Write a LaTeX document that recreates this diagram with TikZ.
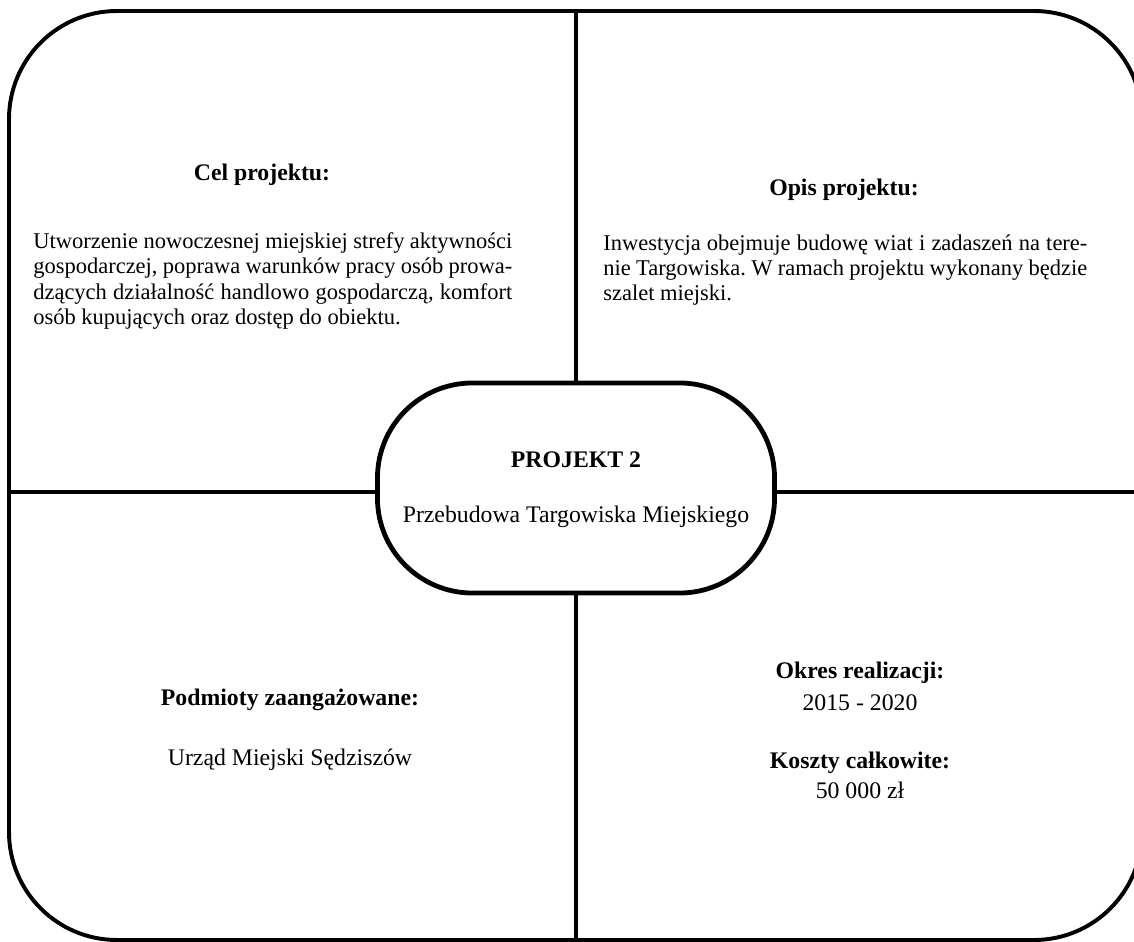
\documentclass[tikz,border=0pt]{standalone}
\usepackage{fontspec}
\setmainfont{Liberation Serif}
\frenchspacing
\usetikzlibrary{positioning}

% one justified line of given width
\newcommand{\fullline}[2]{\makebox[#1][s]{#2}}

\begin{document}
\begin{tikzpicture}[
        x=0.025cm, y=-0.025cm,
        frame/.style   = {draw, line width=2.8pt, rounded corners=2.7cm},
        divider/.style = {draw, line width=3pt},
        hub/.style     = {draw, fill=white, line width=3.4pt, rectangle, rounded corners=2.375cm, minimum width=9.925cm, minimum height=5.25cm},
        txt/.style     = {inner sep=0pt, font=\fontsize{16.9}{17.8}\selectfont},
        head/.style    = {inner sep=0pt, font=\fontsize{16.9}{17.8}\selectfont\bfseries},
        body/.style    = {inner sep=0pt, align=left, font=\fontsize{16}{17.8}\selectfont}]

        \useasboundingbox (0,0) rectangle (1134,942);

        % outer frame of the card
        \draw[frame] (9,11) rectangle (1142,940);

        % the two dividers, ends as named coordinates
        \coordinate (top) at (576,11);
        \coordinate (bottom) at (576,942);
        \coordinate (left) at (9,492);
        \coordinate (right) at (1142,492);
        \draw[divider] (top) -- (bottom);
        \draw[divider] (left) -- (right);

        % centre of the card
        \node[hub] (hub) at (576,488) {};
        \node[head] (projekt) at (576,460) {PROJEKT 2};
        \node[txt] (nazwa) at (576,517) {Przebudowa Targowiska Miejskiego};

        % upper left quarter
        \node[head] (cel) at (262,175) {Cel projektu:};
        \node[body, anchor=west] (celtxt) at (33,281) {%
            \fullline{11.975cm}{Utworzenie nowoczesnej miejskiej strefy aktywności}\\
            \fullline{11.975cm}{gospodarczej, poprawa warunków pracy osób prowa-}\\
            \fullline{11.975cm}{dzących działalność handlowo gospodarczą, komfort}\\
            osób kupujących oraz dostęp do obiektu.};

        % upper right quarter
        \node[head] (opis) at (844,190) {Opis projektu:};
        \node[body, anchor=west] (opistxt) at (603,270) {%
            \fullline{12.1cm}{Inwestycja obejmuje budowę wiat i zadaszeń na tere-}\\
            \fullline{12.1cm}{nie Targowiska. W ramach projektu wykonany będzie}\\
            szalet miejski.};

        % lower left quarter
        \node[head] (podmioty) at (290,700) {Podmioty zaangażowane:};
        \node[txt] (urzad) at (290,760) {Urząd Miejski Sędziszów};

        % lower right quarter
        \node[head] (okres) at (860,673) {Okres realizacji:};
        \node[txt] (okresval) at (860,703) {2015 - 2020};
        \node[head] (koszty) at (860,763) {Koszty całkowite:};
        \node[txt] (kosztyval) at (860,790) {50 000 zł};

\end{tikzpicture}
\end{document}
